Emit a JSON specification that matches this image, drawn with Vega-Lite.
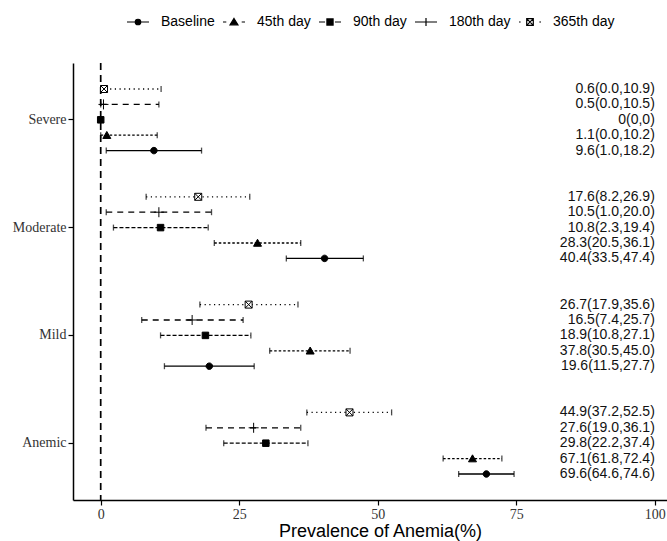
{
  "$schema": "https://vega.github.io/schema/vega-lite/v6.json",
  "width": 594,
  "height": 437,
  "autosize": {"type": "none"},
  "padding": {"left": 73, "top": 63, "right": 0, "bottom": 41},
  "background": "white",
  "config": {
    "view": {"stroke": null},
    "axis": {"grid": false}
  },
  "data": {
    "values": [
      {"category": "Severe", "period": "365th day", "est": 0.6, "lo": 0.0, "hi": 10.9, "label": "0.6(0.0,10.9)"},
      {"category": "Severe", "period": "180th day", "est": 0.5, "lo": 0.0, "hi": 10.5, "label": "0.5(0.0,10.5)"},
      {"category": "Severe", "period": "90th day", "est": 0, "lo": 0, "hi": 0, "label": "0(0,0)"},
      {"category": "Severe", "period": "45th day", "est": 1.1, "lo": 0.0, "hi": 10.2, "label": "1.1(0.0,10.2)"},
      {"category": "Severe", "period": "Baseline", "est": 9.6, "lo": 1.0, "hi": 18.2, "label": "9.6(1.0,18.2)"},
      {"category": "Moderate", "period": "365th day", "est": 17.6, "lo": 8.2, "hi": 26.9, "label": "17.6(8.2,26.9)"},
      {"category": "Moderate", "period": "180th day", "est": 10.5, "lo": 1.0, "hi": 20.0, "label": "10.5(1.0,20.0)"},
      {"category": "Moderate", "period": "90th day", "est": 10.8, "lo": 2.3, "hi": 19.4, "label": "10.8(2.3,19.4)"},
      {"category": "Moderate", "period": "45th day", "est": 28.3, "lo": 20.5, "hi": 36.1, "label": "28.3(20.5,36.1)"},
      {"category": "Moderate", "period": "Baseline", "est": 40.4, "lo": 33.5, "hi": 47.4, "label": "40.4(33.5,47.4)"},
      {"category": "Mild", "period": "365th day", "est": 26.7, "lo": 17.9, "hi": 35.6, "label": "26.7(17.9,35.6)"},
      {"category": "Mild", "period": "180th day", "est": 16.5, "lo": 7.4, "hi": 25.7, "label": "16.5(7.4,25.7)"},
      {"category": "Mild", "period": "90th day", "est": 18.9, "lo": 10.8, "hi": 27.1, "label": "18.9(10.8,27.1)"},
      {"category": "Mild", "period": "45th day", "est": 37.8, "lo": 30.5, "hi": 45.0, "label": "37.8(30.5,45.0)"},
      {"category": "Mild", "period": "Baseline", "est": 19.6, "lo": 11.5, "hi": 27.7, "label": "19.6(11.5,27.7)"},
      {"category": "Anemic", "period": "365th day", "est": 44.9, "lo": 37.2, "hi": 52.5, "label": "44.9(37.2,52.5)"},
      {"category": "Anemic", "period": "180th day", "est": 27.6, "lo": 19.0, "hi": 36.1, "label": "27.6(19.0,36.1)"},
      {"category": "Anemic", "period": "90th day", "est": 29.8, "lo": 22.2, "hi": 37.4, "label": "29.8(22.2,37.4)"},
      {"category": "Anemic", "period": "45th day", "est": 67.1, "lo": 61.8, "hi": 72.4, "label": "67.1(61.8,72.4)"},
      {"category": "Anemic", "period": "Baseline", "est": 69.6, "lo": 64.6, "hi": 74.6, "label": "69.6(64.6,74.6)"}
    ]
  },
  "encoding": {
    "y": {
      "field": "category", "type": "nominal",
      "sort": ["Severe", "Moderate", "Mild", "Anemic"],
      "scale": {"paddingInner": 0, "paddingOuter": 0.027},
      "axis": {
        "title": null,
        "labelFont": "Liberation Serif", "labelFontSize": 14, "labelColor": "#333333",
        "labelPadding": 2,
        "domainColor": "#000000", "domainWidth": 1.5,
        "tickColor": "#000000", "tickSize": 5, "tickWidth": 1.2
      }
    },
    "yOffset": {
      "field": "period", "type": "nominal",
      "sort": ["365th day", "180th day", "90th day", "45th day", "Baseline"],
      "scale": {"paddingInner": 0, "paddingOuter": 1.09}
    }
  },
  "layer": [
    {
      "data": {"values": [{"ref": 0}]},
      "mark": {"type": "rule", "color": "#000000", "strokeWidth": 1.7, "strokeDash": [7, 5]},
      "encoding": {
        "x": {"field": "ref", "type": "quantitative"},
        "y": null,
        "yOffset": null
      }
    },
    {
      "mark": {"type": "rule", "color": "#000000", "strokeWidth": 1.3},
      "encoding": {
        "x": {
          "field": "lo", "type": "quantitative",
          "scale": {"domain": [-5, 102.2], "nice": false, "zero": false},
          "axis": {
            "title": "Prevalence of Anemia(%)",
            "values": [0, 25, 50, 75, 100],
            "titleFont": "Liberation Sans", "titleFontSize": 18, "titleFontWeight": "normal", "titleColor": "#000000",
            "titlePadding": 1, "titleX": 307,
            "labelFont": "Liberation Serif", "labelFontSize": 14, "labelColor": "#333333",
            "labelPadding": 2,
            "domainColor": "#000000", "domainWidth": 1.5,
            "tickColor": "#000000", "tickSize": 5, "tickWidth": 1.2
          }
        },
        "x2": {"field": "hi"},
        "strokeDash": {
          "field": "period", "type": "nominal",
          "scale": {
            "domain": ["Baseline", "45th day", "90th day", "180th day", "365th day"],
            "range": [[1, 0], [2.5, 2], [4, 2], [6, 5], [1.2, 3.5]]
          },
          "legend": null
        }
      }
    },
    {
      "mark": {"type": "tick", "color": "#000000", "thickness": 1.3, "size": 6},
      "encoding": {"x": {"field": "lo", "type": "quantitative"}}
    },
    {
      "mark": {"type": "tick", "color": "#000000", "thickness": 1.3, "size": 6},
      "encoding": {"x": {"field": "hi", "type": "quantitative"}}
    },
    {
      "mark": {"type": "point", "filled": true, "stroke": "#000000", "strokeWidth": 1, "size": 100, "opacity": 1},
      "encoding": {
        "x": {"field": "est", "type": "quantitative"},
        "shape": {
          "field": "period", "type": "nominal",
          "scale": {
            "domain": ["Baseline", "45th day", "90th day", "180th day", "365th day"],
            "range": [
              "M-0.65,0A0.65,0.65,0,1,1,0.65,0A0.65,0.65,0,1,1,-0.65,0Z",
              "M0,-0.75L0.8,0.65L-0.8,0.65Z",
              "M-0.65,-0.65H0.65V0.65H-0.65Z",
              "M-1,0H1M0,-1V1",
              "M-0.7,-0.7H0.7V0.7H-0.7ZM-0.7,-0.7L0.7,0.7M-0.7,0.7L0.7,-0.7"
            ]
          },
          "legend": null
        },
        "fill": {
          "field": "period", "type": "nominal",
          "scale": {
            "domain": ["Baseline", "45th day", "90th day", "180th day", "365th day"],
            "range": ["#000000", "#000000", "#000000", "#000000", "#ffffff"]
          },
          "legend": null
        }
      }
    },
    {
      "mark": {"type": "point", "filled": true, "stroke": "#000000", "size": 484, "opacity": 0},
      "encoding": {
        "x": {"field": "est", "type": "quantitative"},
        "shape": {
          "field": "period", "type": "nominal",
          "scale": {
            "domain": ["Baseline", "45th day", "90th day", "180th day", "365th day"],
            "range": [
              "M-1,0H1M-0.25,0A0.25,0.25,0,1,1,0.25,0A0.25,0.25,0,1,1,-0.25,0Z",
              "M-1,0H-0.7M0.7,0H1M0,-0.32L0.36,0.26L-0.36,0.26Z",
              "M-1,0H-0.45M0.45,0H1M-0.28,-0.28H0.28V0.28H-0.28Z",
              "M-1,0H1M0,-0.36V0.36",
              "M-1,0H-0.85M0.85,0H1M-0.3,-0.3H0.3V0.3H-0.3ZM-0.3,-0.3L0.3,0.3M-0.3,0.3L0.3,-0.3"
            ]
          },
          "legend": {
            "title": null,
            "orient": "none", "legendX": 53, "legendY": -53,
            "direction": "horizontal", "columns": 5,
            "symbolSize": 484, "symbolOpacity": 1,
            "symbolStrokeWidth": 1.2, "symbolStrokeColor": "#000000",
            "labelFont": "Liberation Sans", "labelFontSize": 14, "labelColor": "#000000",
            "labelOffset": 11, "columnPadding": 5, "padding": 0,
            "encode": {"symbols": {"update": {"stroke": {"value": "#000000"}, "strokeWidth": {"value": 1.2}, "opacity": {"value": 1}}}}
          }
        },
        "fill": {
          "field": "period", "type": "nominal",
          "scale": {
            "domain": ["Baseline", "45th day", "90th day", "180th day", "365th day"],
            "range": ["#000000", "#000000", "#000000", "#000000", "#ffffff"]
          },
          "legend": {
            "title": null,
            "orient": "none", "legendX": 53, "legendY": -53,
            "direction": "horizontal", "columns": 5,
            "symbolSize": 484, "symbolOpacity": 1,
            "symbolStrokeWidth": 1.2, "symbolStrokeColor": "#000000",
            "labelFont": "Liberation Sans", "labelFontSize": 14, "labelColor": "#000000",
            "labelOffset": 11, "columnPadding": 5, "padding": 0,
            "encode": {"symbols": {"update": {"stroke": {"value": "#000000"}, "strokeWidth": {"value": 1.2}, "opacity": {"value": 1}}}}
          }
        }
      }
    },
    {
      "mark": {"type": "text", "align": "right", "baseline": "middle", "font": "Liberation Sans", "fontSize": 14, "color": "#111111"},
      "encoding": {
        "x": {"datum": 100, "type": "quantitative"},
        "text": {"field": "label", "type": "nominal"}
      }
    }
  ],
  "resolve": {"scale": {"shape": "independent", "fill": "independent"}}
}
